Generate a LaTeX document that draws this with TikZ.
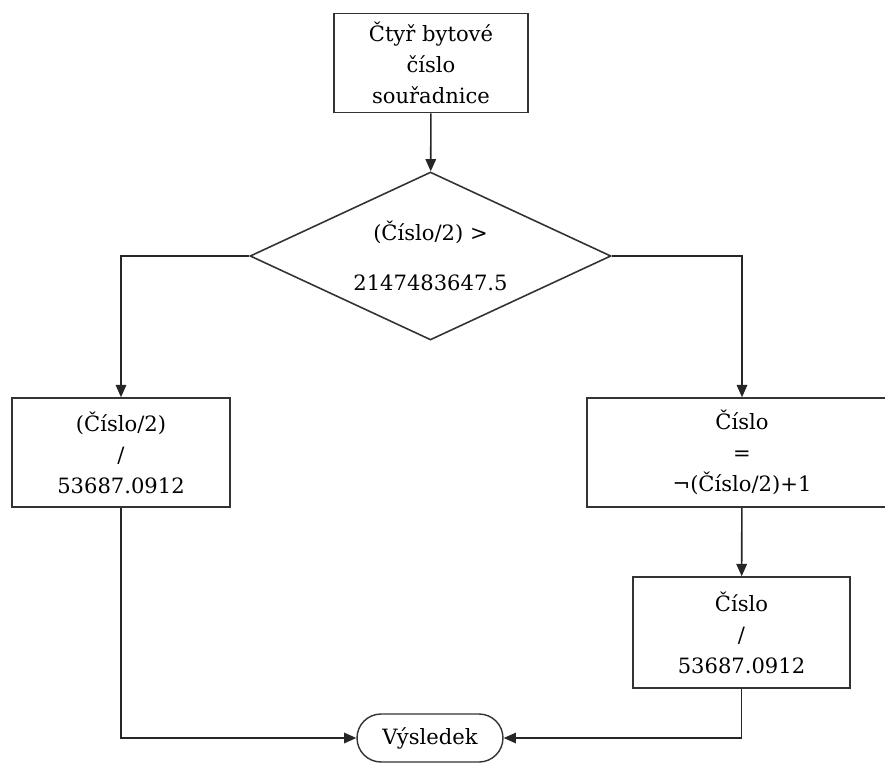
\documentclass[tikz,border=0pt]{standalone}
\usepackage{fontspec}
\setmainfont{DejaVu Serif}
\usetikzlibrary{shapes.geometric,arrows.meta}

\begin{document}
\begin{tikzpicture}[x=0.02cm, y=-0.02cm,
    every node/.style={font=\fontsize{12pt}{17.6pt}\selectfont, align=center, text=black},
    box/.style={draw=black!80, line width=0.9pt, inner sep=0pt},
    decision/.style={diamond, draw=black!80, line width=0.9pt, inner sep=0pt, aspect=2.15,
        minimum width=7.22cm, minimum height=3.36cm},
    terminal/.style={draw=black!80, line width=0.8pt, rounded corners=0.48cm,
        minimum width=2.92cm, minimum height=0.96cm},
    flow/.style={draw=black!85, line width=0.9pt, -{Triangle[length=7pt, width=6pt]}}]
    \useasboundingbox (0,0) rectangle (885,764);

    % Start
    \node[box, minimum width=3.88cm, minimum height=1.98cm] (start) at (431,63)
        {Čtyř bytové\\číslo\\souřadnice};

    % Condition
    \node[decision] (cond) at (430.5,256) {(Číslo/2) >\\[11pt]2147483647.5};

    % Branches
    \node[box, minimum width=4.36cm, minimum height=2.18cm] (left) at (121,452.5)
        {(Číslo/2)\\/\\53687.0912};
    \node[box, minimum width=6.2cm, minimum height=2.18cm] (right) at (742,452.5)
        {Číslo\\=\\¬(Číslo/2)+1};
    \node[box, minimum width=4.34cm, minimum height=2.22cm] (lower) at (741.5,632.5)
        {Číslo\\/\\53687.0912};

    % Result
    \node[terminal] (result) at (430,738) {Výsledek};

    % Connectors
    \draw[flow] (start) -- (cond);
    \draw[flow] (cond.west) -| (left.north);
    \draw[flow] (cond.east) -| (right.north);
    \draw[flow] (right) -- (lower);
    \draw[flow] (left.south) |- (result.west);
    \draw[flow] (lower.south) |- (result.east);
\end{tikzpicture}
\end{document}
